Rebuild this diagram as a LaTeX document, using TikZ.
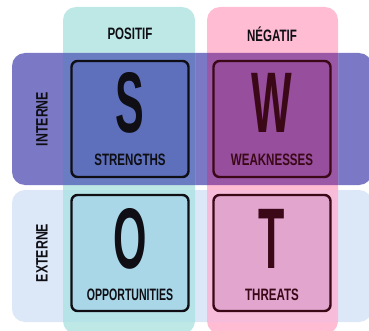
\documentclass[tikz,border=0pt]{standalone}
\usepackage{fontspec}
\setmainfont{Liberation Sans}
\definecolor{extrow}{HTML}{DCE7F8}
\definecolor{introw}{HTML}{7B79C5}
\definecolor{poscol}{HTML}{BEE8E5}
\definecolor{negcol}{HTML}{FFBCD3}
\definecolor{posin}{HTML}{6A7DC3}
\definecolor{negin}{HTML}{9A58A6}
\definecolor{posext}{HTML}{B6E3E8}
\definecolor{negext}{HTML}{F6BCD9}
\definecolor{sfill}{HTML}{5E70BC}
\definecolor{wfill}{HTML}{964E9D}
\definecolor{ofill}{HTML}{A9D7E8}
\definecolor{tfill}{HTML}{E1A5CE}
\definecolor{ink}{HTML}{0E0E14}
\definecolor{maroon}{HTML}{3A0816}
\newcommand{\narrow}[2][0.7]{\scalebox{#1}[1]{#2}}
\tikzset{
  band/.style={rounded corners=13pt},
  card/.style={draw, line width=2.4pt, rounded corners=6pt, inner sep=0pt,
    minimum width=117pt, minimum height=116pt},
  letter/.style={inner sep=0pt, font=\fontsize{86}{86}\selectfont\bfseries},
  tag/.style={inner sep=0pt, font=\fontsize{16.5}{16.5}\selectfont\bfseries},
}
\begin{document}
\begin{tikzpicture}[x=1pt,y=1pt]
\useasboundingbox (0,0) rectangle (369,330);
% rows and columns
\fill[extrow, band] (12,8) rectangle (372,140);
\fill[introw, band] (12,145) rectangle (372,277);
\fill[poscol, band] (63,-4) rectangle (195,323);
\fill[negcol, band] (207,-4) rectangle (338,323);
\begin{scope}
\clip[band] (12,145) rectangle (372,277);
\fill[posin] (63,0) rectangle (195,330);
\fill[negin] (207,0) rectangle (338,330);
\end{scope}
\begin{scope}
\clip[band] (12,8) rectangle (372,140);
\fill[posext] (63,0) rectangle (195,330);
\fill[negext] (207,0) rectangle (338,330);
\end{scope}
% headers
\node[tag, text=ink] (positif) at (130,296) {\narrow{POSITIF}};
\node[tag, text=ink] (negatif) at (272,296) {\narrow{NÉGATIF}};
\node[tag, text=ink, rotate=90] (interne) at (42,211) {\narrow[0.75]{INTERNE}};
\node[tag, text=ink, rotate=90] (externe) at (42,77) {\narrow[0.75]{EXTERNE}};
% cards
\node[card, draw=ink, fill=sfill] (S) at (130,211) {};
\node[card, draw=maroon, fill=wfill] (W) at (272,211) {};
\node[card, draw=ink, fill=ofill] (O) at (130,77) {};
\node[card, draw=maroon, fill=tfill] (T) at (272,77) {};
\node[letter, text=ink] (sletter) at ([yshift=16pt]S.center) {\narrow[0.5]{S}};
\node[letter, text=maroon] (wletter) at ([yshift=16pt]W.center) {\narrow[0.5]{W}};
\node[letter, text=ink] (oletter) at ([yshift=14pt]O.center) {\narrow[0.5]{O}};
\node[letter, text=maroon] (tletter) at ([yshift=14pt]T.center) {\narrow[0.5]{T}};
\node[tag, text=ink] (slabel) at ([yshift=-41pt]S.center) {\narrow{STRENGTHS}};
\node[tag, text=maroon] (wlabel) at ([yshift=-41pt]W.center) {\narrow{WEAKNESSES}};
\node[tag, text=ink] (olabel) at ([yshift=-42pt]O.center) {\narrow[0.64]{OPPORTUNITIES}};
\node[tag, text=maroon] (tlabel) at ([yshift=-42pt]T.center) {\narrow{THREATS}};
\end{tikzpicture}
\end{document}
